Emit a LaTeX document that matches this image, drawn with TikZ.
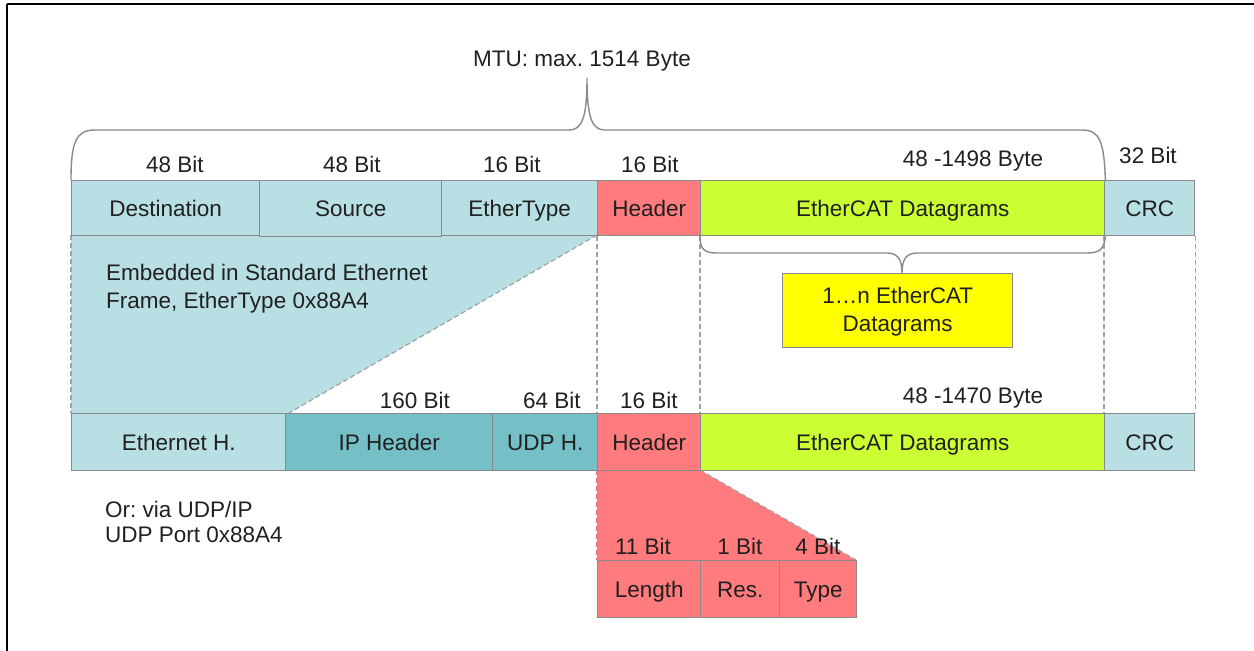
\documentclass[tikz,border=0pt]{standalone}
\usepackage{fontspec}
\setmainfont{Liberation Sans}
\frenchspacing
\definecolor{lblue}{HTML}{B8DFE3}
\definecolor{teal}{HTML}{75BFC6}
\definecolor{hred}{HTML}{FF7B7D}
\definecolor{lime}{HTML}{CCFF33}
\definecolor{yel}{HTML}{FFFF00}
\definecolor{boxgray}{HTML}{8A8A8A}
\definecolor{txt}{HTML}{202020}
\begin{document}
\begin{tikzpicture}[x=1pt,y=-1pt,
  every node/.style={text=txt,font=\fontsize{22.5}{28}\selectfont},
  boxbase/.style={draw=boxgray,line width=1.4pt,inner sep=0pt,anchor=north west},
  cell/.style={boxbase,text height=16.5pt,text depth=0pt},
  toprow/.style={cell,minimum height=55pt},
  botrow/.style={cell,minimum height=57pt},
  subrow/.style={cell,minimum height=57pt},
  bitlbl/.style={inner sep=0pt,anchor=base},
  dashline/.style={draw=boxgray!80,line width=1.2pt,dash pattern=on 5pt off 3pt},
  bracestyle/.style={draw=boxgray,line width=1.4pt}]
\useasboundingbox (0,0) rectangle (1254,651);
% frame
\draw[line width=2.5pt] (7,4) -- (1254,4);
\draw[line width=2.5pt] (7,4) -- (7,651);

% coordinates for fills
\coordinate (blA) at (71,235);
\coordinate (blB) at (597,235);
\coordinate (blC) at (289,413);
\coordinate (blD) at (71,413);
\fill[lblue] (blA) -- (blB) -- (blC) -- (blD) -- cycle;
\draw[dashline] (blB) -- (blC);
\draw[dashline] (blA) -- (blD);

\coordinate (rdA) at (597,470);
\coordinate (rdB) at (700,470);
\coordinate (rdC) at (856,560);
\coordinate (rdD) at (597,560);
\fill[hred] (rdA) -- (rdB) -- (rdC) -- (rdD) -- cycle;
\draw[dashline] (rdB) -- (rdC);
\draw[dashline,draw=hred!60!boxgray] (rdA) -- (rdD);

% top row
\node[toprow,fill=lblue,minimum width=188pt] (dst) at (71,180) {Destination};
\node[toprow,fill=lblue,minimum width=182pt,minimum height=56pt] (src) at (259,180) {Source};
\node[toprow,fill=lblue,minimum width=156pt] (etype) at (441,180) {EtherType};
\node[toprow,fill=hred,minimum width=103pt] (hdr) at (597,180) {Header};
\node[toprow,fill=lime,minimum width=404pt] (dg) at (700,180) {EtherCAT Datagrams};
\node[toprow,fill=lblue,minimum width=90pt] (crc) at (1104,180) {CRC};

% bottom row
\node[botrow,fill=lblue,minimum width=214pt] (eth) at (71,413) {Ethernet H.};
\node[botrow,fill=teal,minimum width=207pt] (ip) at (285,413) {IP Header};
\node[botrow,fill=teal,minimum width=105pt] (udp) at (492,413) {UDP H.};
\node[botrow,fill=hred,minimum width=103pt] (hdrb) at (597,413) {Header};
\node[botrow,fill=lime,minimum width=404pt] (dgb) at (700,413) {EtherCAT Datagrams};
\node[botrow,fill=lblue,minimum width=90pt] (crcb) at (1104,413) {CRC};

% header subfields
\node[subrow,fill=hred,minimum width=103pt] (len) at (597,560) {Length};
\node[subrow,fill=hred,minimum width=79pt] (res) at (700,560) {Res.};
\node[subrow,fill=hred,minimum width=77pt] (typ) at (779,560) {Type};

% dashed guide lines
\draw[dashline] (hdr.south west) -- (hdrb.north west);
\draw[dashline] (dg.south west) -- (dgb.north west);
\draw[dashline] (crc.south west) -- (crcb.north west);
\draw[dashline] (crc.south east) -- (crcb.north east);

% top bit labels
\node[bitlbl] (l1) at (175,172) {48 Bit};
\node[bitlbl] (l2) at (352,172) {48 Bit};
\node[bitlbl] (l3) at (512,172) {16 Bit};
\node[bitlbl] (l4) at (650,172) {16 Bit};
\node[bitlbl] (l5) at (973,166) {48 -1498 Byte};
\node[bitlbl] (l6) at (1148,163) {32 Bit};

% bottom bit labels
\node[bitlbl] (b1) at (415,408) {160 Bit};
\node[bitlbl] (b2) at (552,408) {64 Bit};
\node[bitlbl] (b3) at (649,408) {16 Bit};
\node[bitlbl] (b4) at (973,403) {48 -1470 Byte};

% sub bit labels
\node[bitlbl] (s1) at (643,554) {11 Bit};
\node[bitlbl] (s2) at (740,554) {1 Bit};
\node[bitlbl] (s3) at (818,554) {4 Bit};

% MTU brace
\node[inner sep=0pt] (mtu) at (582,61) {MTU: max. 1514 Byte};
\draw[bracestyle] (dst.north west) .. controls (71,142) and (76,130) .. (95,130)
  -- (569,130) .. controls (582,130) and (587,118) .. (587,78)
  .. controls (587,118) and (592,130) .. (605,130)
  -- (1082,130) .. controls (1100,130) and (1104,142) .. (dg.north east);

% datagram brace
\node[boxbase,fill=yel,minimum width=230pt,minimum height=74pt,align=center] (many) at (782,273) {\rule{0pt}{19pt}1\ldots n EtherCAT\\Datagrams};
\draw[bracestyle] (dg.south west) .. controls (700,249) and (704,253) .. (717,253)
  -- (887,253) .. controls (898,253) and (902,260) .. (many.north -| 902,0)
  .. controls (902,260) and (906,253) .. (917,253)
  -- (1087,253) .. controls (1100,253) and (1104,249) .. (dg.south east);

% side texts
\node[anchor=north west,inner sep=0pt,align=left] (emb) at (106,264) {Embedded in Standard Ethernet\\Frame, EtherType 0x88A4};
\node[anchor=north west,inner sep=0pt,align=left,font=\fontsize{22.5}{25}\selectfont] (udpt) at (105,501) {Or: via UDP/IP\\UDP Port 0x88A4};
\end{tikzpicture}
\end{document}
